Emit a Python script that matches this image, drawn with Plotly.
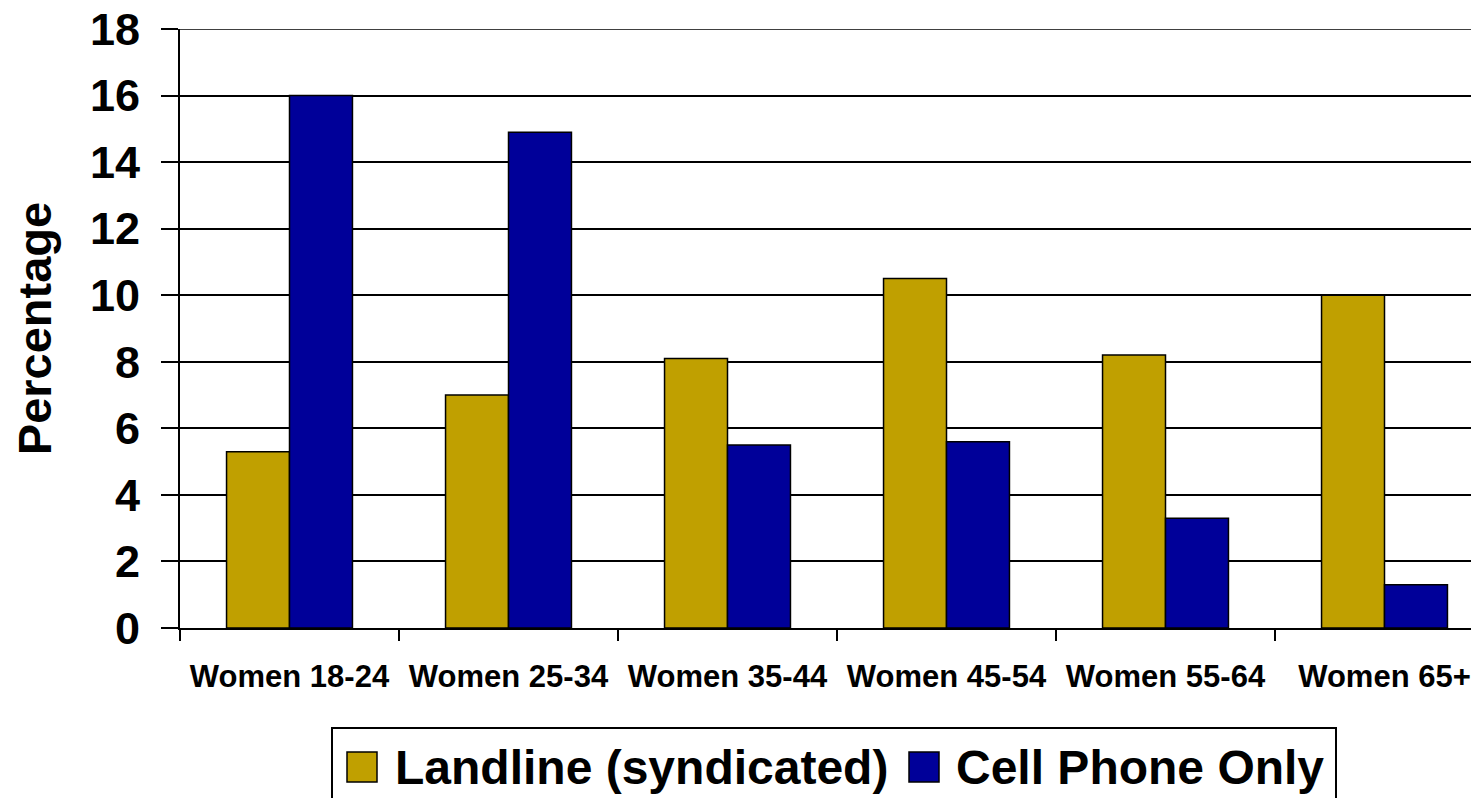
import plotly.graph_objects as go

categories = ["Women 18-24", "Women 25-34", "Women 35-44", "Women 45-54", "Women 55-64", "Women 65+"]
series_names = ["Landline (syndicated)", "Cell Phone Only"]
landline = [5.3, 7.0, 8.1, 10.5, 8.2, 10.0]
cell_only = [16.0, 14.9, 5.5, 5.6, 3.3, 1.3]
series_values = [landline, cell_only]
series_colors = ["#C0A000", "#000099"]
y_ticks = [0, 2, 4, 6, 8, 10, 12, 14, 16, 18]
y_title = "Percentage"

FONT = "Liberation Sans, Arial, Helvetica, sans-serif"
OFF = 8  # page body margin
W, H = 1479 - OFF, 798 - OFF
ML, MT = 180 - OFF, 29 - OFF
PLOT_BOTTOM = 628 - OFF
MB = H - PLOT_BOTTOM
MR = 0
PW, PH = W - ML - MR, H - MT - MB
CAT_PX = 219.0


def px_x(x):
    return (x - OFF - ML) / PW


def px_y(y):
    return (PLOT_BOTTOM - (y - OFF)) / PH


fig = go.Figure()
for name, vals, col in zip(series_names, series_values, series_colors):
    fig.add_trace(go.Bar(
        x=categories, y=vals, name=name,
        marker=dict(color=col, line=dict(color="black", width=1.5)),
        showlegend=False,
    ))

fig.update_layout(
    width=W, height=H,
    margin=dict(l=ML, r=MR, t=MT, b=MB, pad=0, autoexpand=False),
    paper_bgcolor="white", plot_bgcolor="white",
    barmode="group", bargap=0.425, bargroupgap=0,
    font=dict(family=FONT, color="black", weight="bold"),
    showlegend=False,
)

fig.update_xaxes(
    type="category", automargin=False,
    range=[-0.5, -0.5 + PW / CAT_PX],
    showline=True, linecolor="black", linewidth=2,
    ticks="outside", tickson="boundaries", ticklen=11, tickwidth=2, tickcolor="black",
    tickfont=dict(family=FONT, size=31, color="black", weight="bold"),
    ticklabelstandoff=20,
    showgrid=False, zeroline=False,
)

fig.update_yaxes(
    automargin=False,
    range=[0, max(y_ticks)], tickvals=y_ticks, ticktext=[str(v) for v in y_ticks],
    showline=True, linecolor="black", linewidth=2,
    ticks="outside", ticklen=17, tickwidth=2, tickcolor="black",
    tickfont=dict(family=FONT, size=45, color="black", weight="bold"),
    ticklabelstandoff=12, ticklabeloverflow="allow",
    showgrid=True, gridcolor="black", gridwidth=1.5,
    zeroline=False,
    title=dict(text=y_title, font=dict(family=FONT, size=47, color="black", weight="bold"), standoff=31),
)

# Top gridline at the axis maximum (plotly drops gridlines at the range edge)
shapes = [dict(type="line", xref="paper", yref="y", x0=0, x1=1,
               y0=max(y_ticks), y1=max(y_ticks), line=dict(color="black", width=1.5))]

# Legend (drawn manually to match large swatches)
shapes.append(dict(type="rect", xref="paper", yref="paper",
                   x0=px_x(332), x1=px_x(1336), y0=px_y(728), y1=px_y(812),
                   line=dict(color="black", width=2), fillcolor="rgba(0,0,0,0)", layer="above"))
swatch_x = [347, 909]
text_x = [393, 954]
annotations = []
for sx, tx, name, col in zip(swatch_x, text_x, series_names, series_colors):
    shapes.append(dict(type="rect", xref="paper", yref="paper",
                       x0=px_x(sx), x1=px_x(sx + 30), y0=px_y(752), y1=px_y(782),
                       line=dict(color="black", width=1.5), fillcolor=col, layer="above"))
    annotations.append(dict(text=name, xref="paper", yref="paper",
                            x=px_x(tx), y=px_y(767), xanchor="left", yanchor="middle",
                            showarrow=False,
                            font=dict(family=FONT, size=48, color="black", weight="bold")))
fig.update_layout(shapes=shapes, annotations=annotations)

fig.write_html("out.html")
